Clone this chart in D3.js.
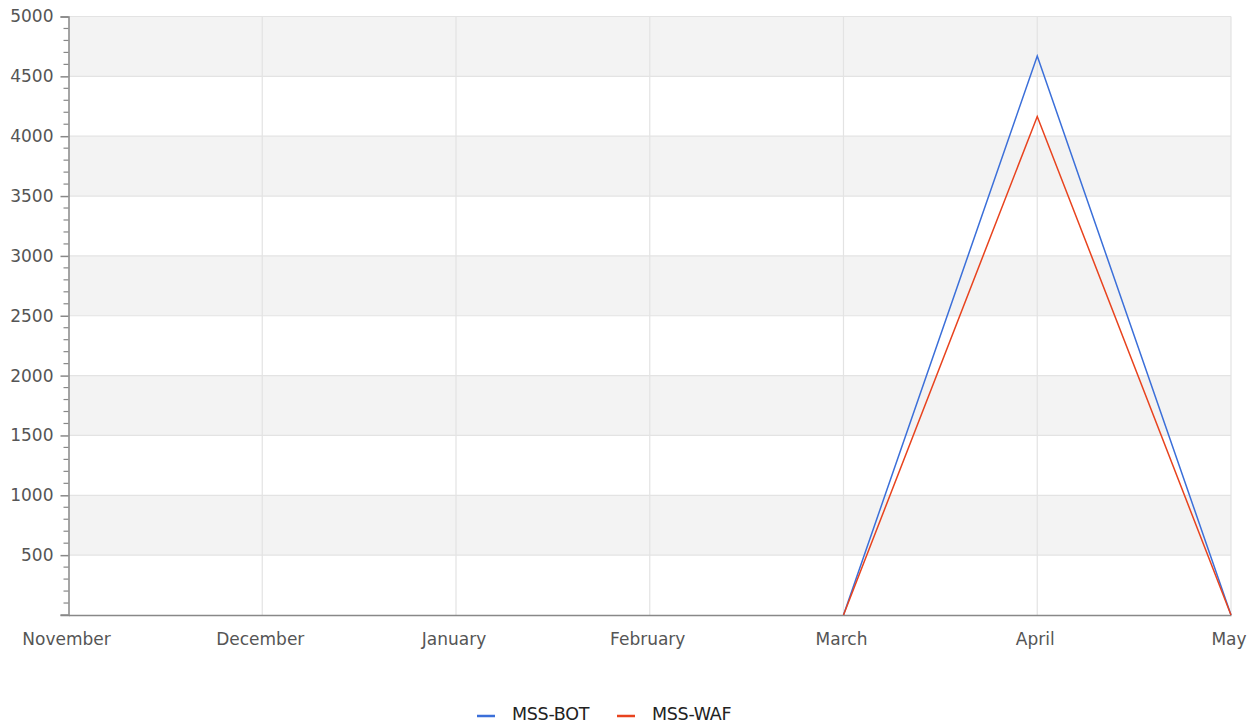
<!DOCTYPE html>
<html>
<head>
<meta charset="utf-8">
<script src="https://cdn.jsdelivr.net/npm/d3@7"></script>
<style>
  body { margin: 0; background: #fff; }
  text { font-family: "DejaVu Sans", sans-serif; }
</style>
</head>
<body>
<div id="canva"></div>
<script>
const months = ['November', 'December', 'January', 'February', 'March', 'April', 'May'];
const botValues = [null, null, null, null, 0, 4670, 0];
const wafValues = [null, null, null, null, 0, 4165, 0];
const seriesNames = ['MSS-BOT', 'MSS-WAF'];
const seriesColors = ['#3b6fd9', '#e8431e'];
const yTicks = [500, 1000, 1500, 2000, 2500, 3000, 3500, 4000, 4500, 5000];

const width = 1259, height = 724;
const margin = { left: 68.5, right: 28, top: 16.5, bottom: 109 };

const svg = d3.select('#canva').append('svg')
    .attr('width', width)
    .attr('height', height)
    .style('display', 'block');

const x = d3.scalePoint()
    .domain(months)
    .range([margin.left, width - margin.right]);

const y = d3.scaleLinear()
    .domain([0, 5000])
    .range([height - margin.bottom, margin.top]);

// alternating bands
const bands = d3.range(0, 5000, 500).filter(v => (v / 500) % 2 === 1);
svg.selectAll('rect.band')
    .data(bands)
    .enter()
    .append('rect')
    .attr('class', 'band')
    .attr('x', margin.left)
    .attr('width', x.range()[1] - margin.left)
    .attr('y', d => y(d + 500))
    .attr('height', d => y(d) - y(d + 500))
    .attr('fill', '#f3f3f3');

// horizontal grid
svg.selectAll('line.hgrid')
    .data(yTicks)
    .enter()
    .append('line')
    .attr('x1', margin.left)
    .attr('x2', x.range()[1])
    .attr('y1', d => y(d))
    .attr('y2', d => y(d))
    .attr('stroke', '#e3e3e3')
    .attr('stroke-width', 1.2);

// vertical grid
svg.selectAll('line.vgrid')
    .data(months.slice(1))
    .enter()
    .append('line')
    .attr('x1', d => x(d))
    .attr('x2', d => x(d))
    .attr('y1', y(5000))
    .attr('y2', y(0))
    .attr('stroke', '#e3e3e3')
    .attr('stroke-width', 1.2);

// y axis
const yAxis = d3.axisLeft(y)
    .tickValues(yTicks)
    .tickSize(8)
    .tickPadding(7)
    .tickFormat(d3.format('d'));
const gy = svg.append('g')
    .attr('transform', `translate(${margin.left},0)`)
    .call(yAxis);
gy.select('.domain').attr('stroke', '#888').attr('stroke-width', 1.5);
gy.selectAll('.tick line').attr('stroke', '#888').attr('stroke-width', 1.5);
gy.selectAll('.tick text').attr('fill', '#555').style('font-size', '17px');

// minor ticks
const minor = d3.range(100, 5000, 100).filter(v => v % 500 !== 0);
svg.selectAll('line.minor')
    .data(minor)
    .enter()
    .append('line')
    .attr('x1', margin.left - 5)
    .attr('x2', margin.left)
    .attr('y1', d => y(d))
    .attr('y2', d => y(d))
    .attr('stroke', '#888')
    .attr('stroke-width', 1.2);

// x axis
const xAxis = d3.axisBottom(x).tickSize(0).tickPadding(18);
const gx = svg.append('g')
    .attr('transform', `translate(0,${y(0)})`)
    .call(xAxis);
gx.select('.domain').attr('stroke', '#888').attr('stroke-width', 1.5);
gx.selectAll('.tick text')
    .attr('fill', '#555')
    .attr('dx', -2.5)
    .style('font-size', '17px');
svg.append('line')
    .attr('x1', margin.left - 8)
    .attr('x2', margin.left)
    .attr('y1', y(0))
    .attr('y2', y(0))
    .attr('stroke', '#888')
    .attr('stroke-width', 1.5);

// lines
const line = d3.line()
    .defined(d => d.v !== null)
    .x(d => x(d.m))
    .y(d => y(d.v));

[botValues, wafValues].forEach((vals, i) => {
    svg.append('path')
        .datum(months.map((m, j) => ({ m, v: vals[j] })))
        .attr('d', line)
        .attr('fill', 'none')
        .attr('stroke', seriesColors[i])
        .attr('stroke-width', 1.5);
});

// legend
const legendX = [477, 617];
const legend = svg.selectAll('g.legend')
    .data(seriesNames)
    .enter()
    .append('g')
    .attr('transform', (d, i) => `translate(${legendX[i]},716)`);
legend.append('line')
    .attr('x1', 0).attr('x2', 18)
    .attr('y1', 0).attr('y2', 0)
    .attr('stroke', (d, i) => seriesColors[i])
    .attr('stroke-width', 2.5);
legend.append('text')
    .attr('x', 35)
    .attr('y', 3.5)
    .attr('fill', '#222')
    .style('font-size', '17.5px')
    .style('letter-spacing', '-0.3px')
    .text(d => d);
</script>
</body>
</html>
